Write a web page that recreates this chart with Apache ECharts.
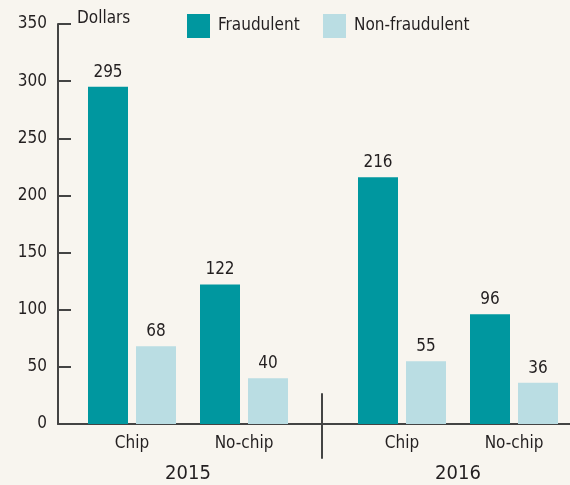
<!DOCTYPE html>
<html><head><meta charset="utf-8">
<script src="https://cdn.jsdelivr.net/npm/echarts@6/dist/echarts.min.js"></script>
<style>html,body{margin:0;padding:0;background:#f8f5ef}#c{width:570px;height:485px}</style>
</head><body><div id="c"></div>
<script>
const years = ['2015', '2016'];
const cardTypes = ['Chip', 'No-chip'];
const seriesNames = ['Fraudulent', 'Non-fraudulent'];
const fraudulent2015 = [295, 122];
const nonFraudulent2015 = [68, 40];
const fraudulent2016 = [216, 96];
const nonFraudulent2016 = [55, 36];
const yMin = 0, yMax = 350, yStep = 50;

const FONT = "'DejaVu Sans Condensed', 'Liberation Sans Narrow', sans-serif";
const TXT = '#231f20';
const AX = '#444444';
const TEAL = '#00979f';
const LIGHT = '#badde3';
const FS = 17;

const chart = echarts.init(document.getElementById('c'), null, {renderer: 'canvas'});
const plotTop = 24, plotBottom = 61;

function barSeries(name, data, idx, color) {
  return {
    type: 'bar', name: name, data: data, xAxisIndex: idx, yAxisIndex: idx,
    barWidth: 40, barGap: '20%',
    itemStyle: {color: color},
    label: {show: true, position: 'top', distance: 6, fontFamily: FONT, fontSize: FS, color: TXT},
    emphasis: {disabled: true}
  };
}
function hiddenY(idx) {
  return {type: 'value', gridIndex: idx, min: yMin, max: yMax, interval: yStep, show: false};
}
function catX(idx, year) {
  return {
    type: 'category', gridIndex: idx, data: cardTypes,
    axisLine: {show: false}, axisTick: {show: false}, splitLine: {show: false},
    axisLabel: {fontFamily: FONT, fontSize: FS, color: TXT, margin: 11},
    name: year, nameLocation: 'middle', nameGap: 40,
    nameTextStyle: {fontFamily: FONT, fontSize: 20, color: TXT, verticalAlign: 'top'}
  };
}
function legendFor(name, left) {
  return {
    left: left, top: 14, padding: 0, itemWidth: 23, itemHeight: 24,
    icon: 'rect', data: [name], selectedMode: false,
    textStyle: {fontFamily: FONT, fontSize: FS, color: TXT, padding: [0, 0, 0, 3]}
  };
}
function gridBox(opts) {
  return Object.assign({containLabel: false, outerBoundsMode: 'none'}, opts);
}

chart.setOption({
  backgroundColor: '#f8f5ef',
  animation: false,
  textStyle: {fontFamily: FONT},
  legend: [legendFor(seriesNames[0], 187), legendFor(seriesNames[1], 323)],
  grid: [
    gridBox({left: 58, right: 0, top: plotTop, bottom: plotBottom}),
    gridBox({left: 76, width: 224, top: plotTop, bottom: plotBottom}),
    gridBox({left: 346, width: 224, top: plotTop, bottom: plotBottom}),
    gridBox({left: 322, width: 10, top: 394, bottom: 27})
  ],
  xAxis: [
    {type: 'category', gridIndex: 0, data: [''],
     axisLine: {show: true, lineStyle: {color: AX, width: 2}},
     axisTick: {show: false}, axisLabel: {show: false}},
    catX(1, years[0]),
    catX(2, years[1]),
    {type: 'value', gridIndex: 3, show: false}
  ],
  yAxis: [
    {type: 'value', gridIndex: 0, min: yMin, max: yMax, interval: yStep,
     axisLine: {show: true, lineStyle: {color: AX, width: 2}},
     axisTick: {show: true, inside: true, length: 13, lineStyle: {color: AX, width: 2}},
     splitLine: {show: false},
     axisLabel: {fontFamily: FONT, fontSize: FS, color: TXT, margin: 11},
     name: 'Dollars', nameLocation: 'end', nameGap: 5,
     nameTextStyle: {fontFamily: FONT, fontSize: FS, color: TXT, align: 'left', verticalAlign: 'middle', padding: [0, 0, 0, 19]}
    },
    hiddenY(1),
    hiddenY(2),
    {type: 'value', gridIndex: 3, axisLine: {show: true, lineStyle: {color: AX, width: 2}},
     axisTick: {show: false}, axisLabel: {show: false}, splitLine: {show: false}}
  ],
  series: [
    barSeries(seriesNames[0], fraudulent2015, 1, TEAL),
    barSeries(seriesNames[1], nonFraudulent2015, 1, LIGHT),
    barSeries(seriesNames[0], fraudulent2016, 2, TEAL),
    barSeries(seriesNames[1], nonFraudulent2016, 2, LIGHT)
  ]
});
</script></body></html>
